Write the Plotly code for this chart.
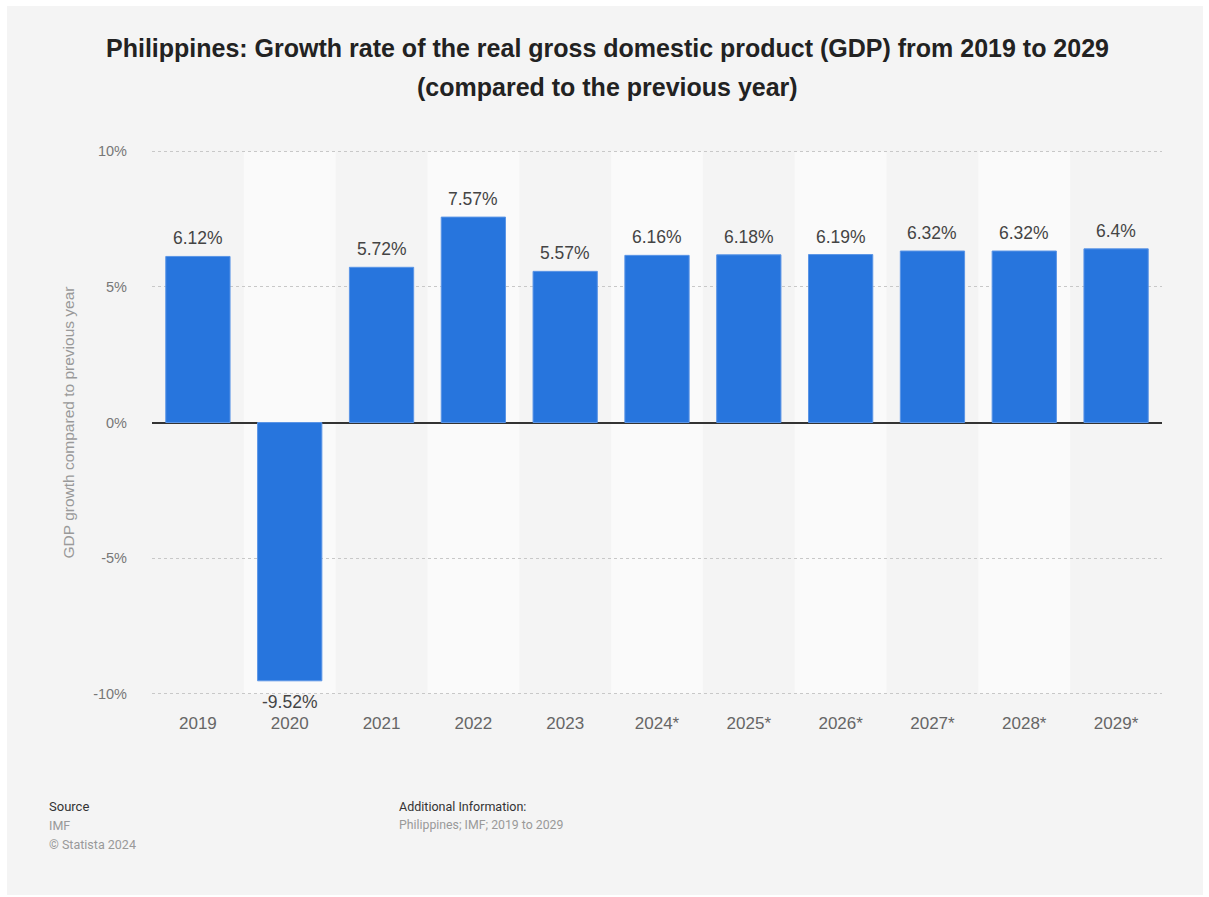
import plotly.graph_objects as go

categories = ["2019", "2020", "2021", "2022", "2023", "2024*", "2025*", "2026*", "2027*", "2028*", "2029*"]
values = [6.12, -9.52, 5.72, 7.57, 5.57, 6.16, 6.18, 6.19, 6.32, 6.32, 6.4]
labels = ["6.12%", "-9.52%", "5.72%", "7.57%", "5.57%", "6.16%", "6.18%", "6.19%", "6.32%", "6.32%", "6.4%"]
y_ticks = [-10, -5, 0, 5, 10]
y_ticktext = ["-10%", "-5%", "0%", "5%", "10%"]

W, H = 1209, 897
L, R, T, B = 152, 47, 149, 201
PW, PH = W - L - R, H - T - B


def px(x):
    return (x - L) / PW


def py(y):
    return (H - B - y) / PH


fig = go.Figure()
fig.add_trace(go.Bar(
    x=categories, y=values,
    marker=dict(color="#2775dd", line=dict(color="#5b95e6", width=1)),
    width=0.7, hoverinfo="skip",
))

shapes = []
shapes.append(dict(type="rect", xref="paper", yref="paper",
                   x0=px(7), x1=px(1203), y0=py(895), y1=py(6),
                   fillcolor="#f4f4f4", line=dict(width=0), layer="below"))
for i in range(len(categories)):
    if i % 2 == 1:
        shapes.append(dict(type="rect", xref="x", yref="y",
                           x0=i - 0.5, x1=i + 0.5, y0=-10, y1=10,
                           fillcolor="#fafafa", line=dict(width=0), layer="below"))

annotations = []
for i, (v, t) in enumerate(zip(values, labels)):
    annotations.append(dict(
        x=i, y=v, xref="x", yref="y", text=t, showarrow=False,
        yanchor="middle", yshift=18 if v >= 0 else -21,
        font=dict(family="Liberation Sans, Arial", size=17.5, color="#444444"),
    ))

title_font = dict(family="Liberation Sans, Arial", size=25, color="#222222")
annotations.append(dict(text="<b>Philippines: Growth rate of the real gross domestic product (GDP) from 2019 to 2029</b>",
                        xref="paper", yref="paper", x=px(607), y=py(48), xanchor="center", yanchor="middle",
                        showarrow=False, font=title_font))
annotations.append(dict(text="<b>(compared to the previous year)</b>",
                        xref="paper", yref="paper", x=px(607), y=py(87), xanchor="center", yanchor="middle",
                        showarrow=False, font=title_font))

foot = "Roboto, Liberation Sans"
foot_items = [
    ("Source", 47, 806, "#333333", 13),
    ("IMF", 47, 825, "#999999", 12.5),
    ("© Statista 2024", 47, 844, "#999999", 12.5),
    ("Additional Information:", 397, 806, "#333333", 12.5),
    ("Philippines; IMF; 2019 to 2029", 397, 825, "#999999", 12.3),
]
for text, x, y, col, sz in foot_items:
    annotations.append(dict(text=text, xref="paper", yref="paper", x=px(x), y=py(y),
                            xanchor="left", yanchor="middle", showarrow=False,
                            font=dict(family=foot, size=sz, color=col)))

fig.update_layout(
    width=W, height=H,
    margin=dict(l=L, r=R, t=T, b=B),
    paper_bgcolor="#ffffff",
    plot_bgcolor="rgba(0,0,0,0)",
    shapes=shapes,
    annotations=annotations,
    showlegend=False,
    font=dict(family="Liberation Sans, Arial", color="#666666"),
    xaxis=dict(
        type="category", showgrid=False, zeroline=False, showline=False,
        tickfont=dict(size=17, color="#666666"), ticks="", ticklabelstandoff=15,
        range=[-0.5, len(categories) - 0.5],
    ),
    yaxis=dict(
        range=[-10.08, 10.08], tickvals=y_ticks, ticktext=y_ticktext,
        showgrid=True, gridcolor="#c8c8c8", griddash="dot", gridwidth=1,
        zeroline=True, zerolinecolor="#333333", zerolinewidth=1.5,
        tickfont=dict(size=14.5, color="#777777"), ticks="",
        ticklabelstandoff=24,
        title=dict(text="GDP growth compared to previous year",
                   font=dict(size=15.5, color="#999999"), standoff=14),
    ),
)

fig.write_html("out.html")
